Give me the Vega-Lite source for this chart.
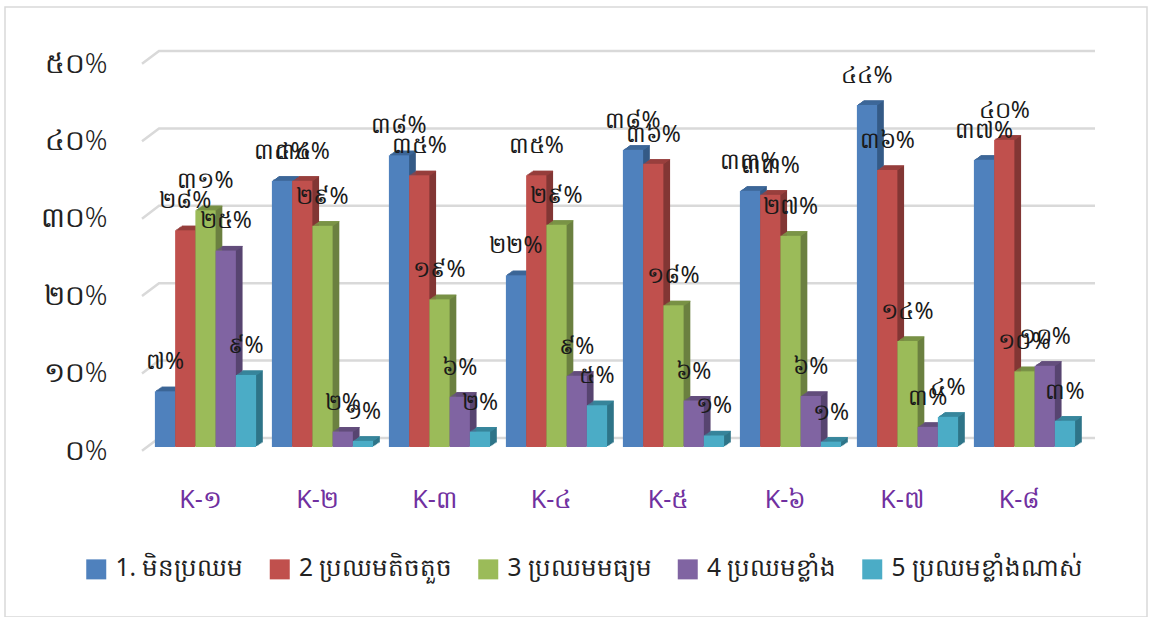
{"$schema":"https://vega.github.io/schema/vega-lite/v6.json","width":1142,"height":610,"autosize":{"type":"none"},"padding":{"left":5,"top":7,"right":2,"bottom":0},"background":"white","view":{"stroke":"#d9d9d9","strokeWidth":1.5},"config":{"font":"Noto Sans"},
"datasets":{"bars":[
{"k":"K-១","s":"1. មិនប្រឈម","v":7.2,"t":"៧%"},{"k":"K-១","s":"2 ប្រឈមតិចតួច","v":28,"t":"២៨%"},{"k":"K-១","s":"3 ប្រឈមមធ្យម","v":30.6,"t":"៣១%"},{"k":"K-១","s":"4 ប្រឈមខ្លាំង","v":25.4,"t":"២៥%"},{"k":"K-១","s":"5 ប្រឈមខ្លាំងណាស់","v":9.3,"t":"៩%"},
{"k":"K-២","s":"1. មិនប្រឈម","v":34.4,"t":"៣៤%"},{"k":"K-២","s":"2 ប្រឈមតិចតួច","v":34.4,"t":"៣៤%"},{"k":"K-២","s":"3 ប្រឈមមធ្យម","v":28.6,"t":"២៩%"},{"k":"K-២","s":"4 ប្រឈមខ្លាំង","v":2,"t":"២%"},{"k":"K-២","s":"5 ប្រឈមខ្លាំងណាស់","v":0.8,"t":"១%"},
{"k":"K-៣","s":"1. មិនប្រឈម","v":37.7,"t":"៣៨%"},{"k":"K-៣","s":"2 ប្រឈមតិចតួច","v":35.1,"t":"៣៥%"},{"k":"K-៣","s":"3 ប្រឈមមធ្យម","v":19.1,"t":"១៩%"},{"k":"K-៣","s":"4 ប្រឈមខ្លាំង","v":6.5,"t":"៦%"},{"k":"K-៣","s":"5 ប្រឈមខ្លាំងណាស់","v":2,"t":"២%"},
{"k":"K-៤","s":"1. មិនប្រឈម","v":22.2,"t":"២២%"},{"k":"K-៤","s":"2 ប្រឈមតិចតួច","v":35.1,"t":"៣៥%"},{"k":"K-៤","s":"3 ប្រឈមមធ្យម","v":28.7,"t":"២៩%"},{"k":"K-៤","s":"4 ប្រឈមខ្លាំង","v":9.2,"t":"៩%"},{"k":"K-៤","s":"5 ប្រឈមខ្លាំងណាស់","v":5.4,"t":"៥%"},
{"k":"K-៥","s":"1. មិនប្រឈម","v":38.4,"t":"៣៨%"},{"k":"K-៥","s":"2 ប្រឈមតិចតួច","v":36.6,"t":"៣៦%"},{"k":"K-៥","s":"3 ប្រឈមមធ្យម","v":18.3,"t":"១៨%"},{"k":"K-៥","s":"4 ប្រឈមខ្លាំង","v":6,"t":"៦%"},{"k":"K-៥","s":"5 ប្រឈមខ្លាំងណាស់","v":1.5,"t":"១%"},
{"k":"K-៦","s":"1. មិនប្រឈម","v":33.1,"t":"៣៣%"},{"k":"K-៦","s":"2 ប្រឈមតិចតួច","v":32.6,"t":"៣៣%"},{"k":"K-៦","s":"3 ប្រឈមមធ្យម","v":27.3,"t":"២៧%"},{"k":"K-៦","s":"4 ប្រឈមខ្លាំង","v":6.6,"t":"៦%"},{"k":"K-៦","s":"5 ប្រឈមខ្លាំងណាស់","v":0.7,"t":"១%"},
{"k":"K-៧","s":"1. មិនប្រឈម","v":44.2,"t":"៤៤%"},{"k":"K-៧","s":"2 ប្រឈមតិចតួច","v":35.8,"t":"៣៦%"},{"k":"K-៧","s":"3 ប្រឈមមធ្យម","v":13.7,"t":"១៤%"},{"k":"K-៧","s":"4 ប្រឈមខ្លាំង","v":2.6,"t":"៣%"},{"k":"K-៧","s":"5 ប្រឈមខ្លាំងណាស់","v":3.9,"t":"៤%"},
{"k":"K-៨","s":"1. មិនប្រឈម","v":37.1,"t":"៣៧%"},{"k":"K-៨","s":"2 ប្រឈមតិចតួច","v":39.7,"t":"៤០%"},{"k":"K-៨","s":"3 ប្រឈមមធ្យម","v":9.8,"t":"១០%"},{"k":"K-៨","s":"4 ប្រឈមខ្លាំង","v":10.5,"t":"១០%"},{"k":"K-៨","s":"5 ប្រឈមខ្លាំងណាស់","v":3.4,"t":"៣%"}
],
"grid":[
{"p":0,"d":0,"l":-0.5},{"p":0,"d":1,"l":1.16},{"p":0,"d":2,"l":1.16},
{"p":10,"d":0,"l":9.5},{"p":10,"d":1,"l":11.16},{"p":10,"d":2,"l":11.16},
{"p":20,"d":0,"l":19.5},{"p":20,"d":1,"l":21.16},{"p":20,"d":2,"l":21.16},
{"p":30,"d":0,"l":29.5},{"p":30,"d":1,"l":31.16},{"p":30,"d":2,"l":31.16},
{"p":40,"d":0,"l":39.5},{"p":40,"d":1,"l":41.16},{"p":40,"d":2,"l":41.16},
{"p":50,"d":0,"l":49.5},{"p":50,"d":1,"l":51.16},{"p":50,"d":2,"l":51.16}
]},
"resolve":{"scale":{"x":"independent","color":"independent"},"axis":{"x":"independent"}},
"encoding":{"y":{"type":"quantitative","scale":{"domain":[0,50],"range":[440,53],"nice":false}}},
"layer":[
{"data":{"name":"grid"},"mark":{"type":"line","color":"#d9d9d9","strokeWidth":2.5,"interpolate":"linear"},
 "encoding":{"x":{"field":"d","type":"quantitative","axis":null,"scale":{"domain":[0,1,2],"range":[137,154,1090]}},"y":{"field":"l","type":"quantitative","axis":{"values":[0,10,20,30,40,50],"title":null,"grid":false,"domain":false,"ticks":false,"labelAlign":"right","labelPadding":-102,"labelOffset":4,"labelFontSize":28,"labelFontWeight":300,"labelColor":"#222222","labelExpr":"['០%','១០%','២០%','៣០%','៤០%','៥០%'][datum.value/10]"}},"detail":{"field":"p"}}},
{"data":{"name":"bars"},"mark":{"type":"bar","yOffset":-0.9,"y2Offset":-0.9},"encoding":{"x":{"field":"k","type":"nominal","axis":null,"sort":null,"scale":{"range":[143.3,1079.3],"paddingInner":0.135,"paddingOuter":0.0675}},"xOffset":{"field":"s","sort":null},"y":{"field":"v","type":"quantitative"},"color":{"field":"s","type":"nominal","legend":null,"scale":{"range":["#345a86","#823634","#6b8040","#574470","#2e7488"]}}}},
{"data":{"name":"bars"},"mark":{"type":"bar","yOffset":-1.8,"y2Offset":-1.8},"encoding":{"x":{"field":"k","type":"nominal","axis":null,"sort":null,"scale":{"range":[144.7,1080.7],"paddingInner":0.135,"paddingOuter":0.0675}},"xOffset":{"field":"s","sort":null},"y":{"field":"v","type":"quantitative"},"color":{"field":"s","type":"nominal","legend":null,"scale":{"range":["#345a86","#823634","#6b8040","#574470","#2e7488"]}}}},
{"data":{"name":"bars"},"mark":{"type":"bar","yOffset":-2.7,"y2Offset":-2.7},"encoding":{"x":{"field":"k","type":"nominal","axis":null,"sort":null,"scale":{"range":[146,1082],"paddingInner":0.135,"paddingOuter":0.0675}},"xOffset":{"field":"s","sort":null},"y":{"field":"v","type":"quantitative"},"color":{"field":"s","type":"nominal","legend":null,"scale":{"range":["#345a86","#823634","#6b8040","#574470","#2e7488"]}}}},
{"data":{"name":"bars"},"mark":{"type":"bar","yOffset":-3.6,"y2Offset":-3.6},"encoding":{"x":{"field":"k","type":"nominal","axis":null,"sort":null,"scale":{"range":[147.3,1083.3],"paddingInner":0.135,"paddingOuter":0.0675}},"xOffset":{"field":"s","sort":null},"y":{"field":"v","type":"quantitative"},"color":{"field":"s","type":"nominal","legend":null,"scale":{"range":["#345a86","#823634","#6b8040","#574470","#2e7488"]}}}},
{"data":{"name":"bars"},"mark":{"type":"bar","yOffset":-4.5,"y2Offset":-4.5},"encoding":{"x":{"field":"k","type":"nominal","axis":null,"sort":null,"scale":{"range":[148.7,1084.7],"paddingInner":0.135,"paddingOuter":0.0675}},"xOffset":{"field":"s","sort":null},"y":{"field":"v","type":"quantitative"},"color":{"field":"s","type":"nominal","legend":null,"scale":{"range":["#345a86","#823634","#6b8040","#574470","#2e7488"]}}}},
{"data":{"name":"bars"},"mark":{"type":"bar","yOffset":-0.9,"y2Offset":0},"encoding":{"x":{"field":"k","type":"nominal","axis":null,"sort":null,"scale":{"range":[143.3,1079.3],"paddingInner":0.135,"paddingOuter":0.0675}},"xOffset":{"field":"s","sort":null},"y":{"field":"v","type":"quantitative"},"y2":{"field":"v"},"color":{"field":"s","type":"nominal","legend":null,"scale":{"range":["#3f6a9c","#9c413f","#7d9748","#66507f","#3a8aa0"]}}}},
{"data":{"name":"bars"},"mark":{"type":"bar","yOffset":-1.8,"y2Offset":-0.9},"encoding":{"x":{"field":"k","type":"nominal","axis":null,"sort":null,"scale":{"range":[144.7,1080.7],"paddingInner":0.135,"paddingOuter":0.0675}},"xOffset":{"field":"s","sort":null},"y":{"field":"v","type":"quantitative"},"y2":{"field":"v"},"color":{"field":"s","type":"nominal","legend":null,"scale":{"range":["#3f6a9c","#9c413f","#7d9748","#66507f","#3a8aa0"]}}}},
{"data":{"name":"bars"},"mark":{"type":"bar","yOffset":-2.7,"y2Offset":-1.8},"encoding":{"x":{"field":"k","type":"nominal","axis":null,"sort":null,"scale":{"range":[146,1082],"paddingInner":0.135,"paddingOuter":0.0675}},"xOffset":{"field":"s","sort":null},"y":{"field":"v","type":"quantitative"},"y2":{"field":"v"},"color":{"field":"s","type":"nominal","legend":null,"scale":{"range":["#3f6a9c","#9c413f","#7d9748","#66507f","#3a8aa0"]}}}},
{"data":{"name":"bars"},"mark":{"type":"bar","yOffset":-3.6,"y2Offset":-2.7},"encoding":{"x":{"field":"k","type":"nominal","axis":null,"sort":null,"scale":{"range":[147.3,1083.3],"paddingInner":0.135,"paddingOuter":0.0675}},"xOffset":{"field":"s","sort":null},"y":{"field":"v","type":"quantitative"},"y2":{"field":"v"},"color":{"field":"s","type":"nominal","legend":null,"scale":{"range":["#3f6a9c","#9c413f","#7d9748","#66507f","#3a8aa0"]}}}},
{"data":{"name":"bars"},"mark":{"type":"bar","yOffset":-4.5,"y2Offset":-3.6},"encoding":{"x":{"field":"k","type":"nominal","axis":null,"sort":null,"scale":{"range":[148.7,1084.7],"paddingInner":0.135,"paddingOuter":0.0675}},"xOffset":{"field":"s","sort":null},"y":{"field":"v","type":"quantitative"},"y2":{"field":"v"},"color":{"field":"s","type":"nominal","legend":null,"scale":{"range":["#3f6a9c","#9c413f","#7d9748","#66507f","#3a8aa0"]}}}},
{"data":{"name":"bars"},"mark":{"type":"bar"},"encoding":{"x":{"field":"k","type":"nominal","sort":null,"scale":{"range":[142,1078],"paddingInner":0.135,"paddingOuter":0.0675},"axis":{"title":null,"labelAngle":0,"domain":false,"ticks":false,"offset":-132,"labelOffset":-5,"labelFontSize":25,"labelColor":"#7030a0"}},"xOffset":{"field":"s","sort":null},"y":{"field":"v","type":"quantitative"},"color":{"field":"s","type":"nominal","scale":{"range":["#4f81bd","#c0504d","#9bbb59","#8064a2","#4bacc6"]},"legend":{"title":null,"orient":"none","legendX":79,"legendY":550,"direction":"horizontal","columns":5,"symbolType":"square","symbolSize":400,"symbolStrokeWidth":0,"labelFontSize":24.5,"labelOffset":7,"labelColor":"#222222","columnPadding":23.5,"labelLimit":400}}}},
{"data":{"name":"bars"},"mark":{"type":"text","dy":-29,"fontSize":23,"color":"#1a1a1a"},"encoding":{"x":{"field":"k","type":"nominal","axis":null,"sort":null,"scale":{"range":[142,1078],"paddingInner":0.135,"paddingOuter":0.0675}},"xOffset":{"field":"s","sort":null},"y":{"field":"v","type":"quantitative"},"text":{"field":"t"}}}
]}
